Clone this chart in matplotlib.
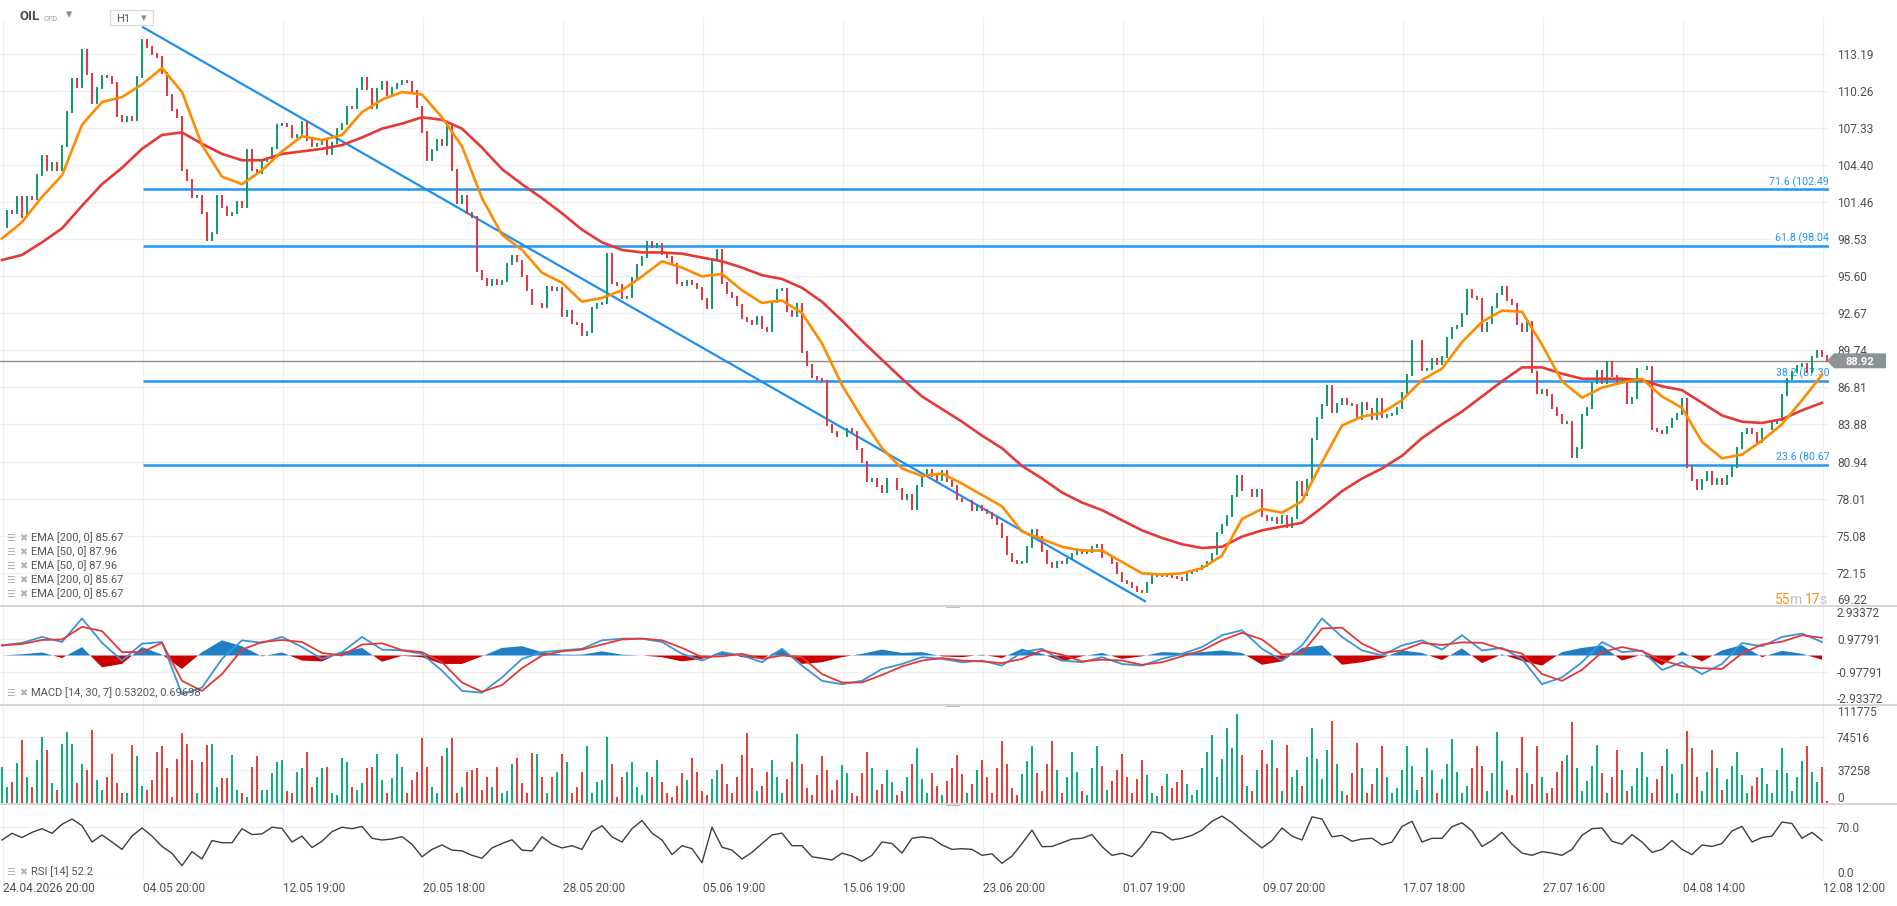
import numpy as np
import matplotlib
matplotlib.use("Agg")
import matplotlib.pyplot as plt
from matplotlib.lines import Line2D
from matplotlib.patches import Rectangle, Polygon

plt.rcParams['font.family'] = ['Roboto', 'DejaVu Sans']

W, H = 1897, 906
X_RIGHT = 1829          # right edge of the plotting area (px)

# ---- data (one candle = ~5 hourly bars) ----
close = [
    99.5, 100.8, 100.6, 101.9, 100.3, 101.9, 101.7, 103.6, 105.1, 104.0,
    104.6, 104.0, 105.9, 108.6, 111.2, 110.6, 113.5, 111.6, 109.3, 110.5,
    111.5, 111.4, 110.9, 108.3, 107.9, 108.2, 108.0, 111.4, 114.3, 113.8,
    113.2, 113.0, 111.7, 110.0, 108.8, 108.2, 104.0, 103.2, 101.9, 102.0,
    100.6, 98.5, 99.0, 102.0, 101.1, 100.5, 100.6, 101.5, 101.1, 105.6,
    104.0, 103.8, 104.7, 105.0, 105.8, 107.6, 107.7, 107.5, 106.6, 106.8,
    107.8, 106.4, 105.9, 106.1, 106.4, 105.3, 106.2, 107.3, 107.7, 109.0,
    108.9, 110.4, 111.3, 110.4, 108.9, 110.4, 111.0, 110.0, 110.5, 110.8,
    111.1, 111.0, 110.3, 109.0, 107.0, 104.8, 105.6, 106.4, 106.0, 107.5,
    104.0, 101.4, 102.0, 100.6, 100.3, 96.0, 95.4, 94.9, 95.3, 95.0,
    95.2, 96.6, 97.2, 96.8, 95.6, 94.5, 93.4, 93.4, 93.2, 94.8,
    94.5, 94.7, 92.5, 92.9, 91.9, 91.8, 91.0, 91.2, 93.1, 93.4,
    93.5, 97.4, 95.1, 94.9, 93.9, 94.0, 95.5, 96.5, 97.1, 98.3,
    97.9, 98.2, 97.4, 97.1, 96.6, 95.1, 94.9, 95.2, 95.0, 94.7,
    93.8, 93.1, 97.0, 97.7, 95.1, 94.3, 94.0, 93.3, 92.3, 92.1,
    91.8, 92.4, 91.5, 91.3, 93.6, 94.5, 94.6, 92.9, 92.5, 93.4,
    89.6, 88.6, 87.6, 87.5, 87.3, 83.8, 83.3, 83.0, 83.0, 83.5,
    83.3, 81.9, 80.9, 79.4, 79.6, 79.0, 78.5, 79.6, 79.6, 78.8,
    78.0, 78.3, 77.2, 79.0, 79.8, 80.3, 79.8, 79.5, 80.2, 79.4,
    79.0, 78.0, 77.8, 77.8, 77.1, 77.4, 77.1, 76.9, 76.5, 76.0,
    75.0, 73.6, 73.1, 72.9, 73.0, 74.2, 75.5, 75.0, 73.9, 72.9,
    72.6, 73.0, 72.9, 73.2, 73.6, 73.9, 73.7, 73.8, 74.2, 74.3,
    73.4, 73.4, 72.9, 72.1, 71.5, 71.3, 71.0, 70.7, 70.6, 71.3,
    71.9, 72.0, 71.9, 72.0, 71.8, 71.7, 71.6, 72.1, 72.3, 72.4,
    72.7, 73.0, 73.6, 75.3, 75.9, 76.6, 78.2, 79.8, 78.7, 78.7,
    78.2, 78.7, 76.6, 76.3, 76.5, 76.1, 76.6, 75.8, 76.5, 79.3,
    78.3, 79.5, 82.7, 84.4, 85.4, 86.9, 84.9, 85.5, 85.9, 85.5,
    85.4, 84.3, 85.6, 85.1, 84.3, 85.9, 84.5, 84.6, 84.7, 85.2,
    86.4, 87.8, 90.5, 90.5, 88.2, 88.3, 89.1, 88.7, 89.2, 90.7,
    91.5, 91.7, 92.6, 94.5, 94.0, 93.8, 91.3, 91.9, 93.2, 94.2,
    94.8, 93.7, 93.4, 91.8, 91.3, 92.0, 88.0, 86.4, 86.6, 86.2,
    85.2, 84.6, 84.0, 84.1, 81.3, 82.0, 84.6, 85.2, 87.2, 88.1,
    87.2, 88.8, 87.7, 87.2, 87.3, 85.6, 86.0, 88.3, 88.3, 88.4,
    83.5, 83.4, 83.2, 83.7, 84.3, 84.7, 85.9, 80.5, 79.5, 78.8,
    79.5, 80.1, 79.2, 79.6, 79.2, 79.8, 80.5, 82.0, 83.2, 83.5,
    83.2, 82.5, 83.5, 83.5, 84.0, 84.2, 86.2, 87.5, 88.0, 88.5,
    88.7, 88.0, 89.2, 89.7, 89.3, 88.92,
]

# EMA values, one every 4 candles
ema50 = [
    98.6, 99.9, 101.9, 103.6, 107.6, 109.4, 109.8, 110.8, 112.1, 110.2,
    106.0, 103.5, 102.9, 104.0, 105.5, 106.7, 106.4, 106.8, 108.6, 109.6,
    110.2, 110.0, 108.2, 105.9, 101.8, 98.9, 97.7, 95.9, 95.1, 93.6,
    93.9, 94.5, 95.6, 96.8, 96.3, 95.6, 95.8, 94.5, 93.5, 93.7,
    92.7, 90.3, 87.0, 84.4, 82.0, 80.4, 79.8, 80.0, 79.2, 78.3,
    77.4, 75.4, 74.8, 74.2, 73.9, 73.9, 73.0, 72.1, 72.0, 72.1,
    72.5, 73.5, 76.4, 77.2, 76.9, 77.8, 80.9, 83.8, 84.5, 84.8,
    85.8, 87.4, 88.3, 90.4, 92.0, 92.9, 92.8, 90.2, 87.3, 86.0,
    86.8, 87.2, 87.5, 86.1, 85.2, 82.5, 81.2, 81.5, 82.6, 83.9,
    85.8, 87.8,
]
ema200 = [
    96.9, 97.3, 98.3, 99.4, 101.2, 102.9, 104.2, 105.7, 106.8, 107.0,
    106.1, 105.3, 104.8, 104.8, 105.3, 105.5, 105.7, 106.0, 106.6, 107.3,
    107.7, 108.2, 108.0, 107.3, 105.8, 104.1, 102.9, 101.8, 100.6, 99.3,
    98.3, 97.7, 97.5, 97.5, 97.4, 97.1, 96.8, 96.3, 95.7, 95.4,
    94.7, 93.6, 92.1, 90.5, 89.0, 87.5, 86.1, 85.1, 84.1, 83.0,
    82.0, 80.6, 79.6, 78.5, 77.7, 77.1, 76.3, 75.5, 74.9, 74.4,
    74.1, 74.2, 75.0, 75.5, 75.8, 76.1, 77.3, 78.6, 79.6, 80.4,
    81.4, 82.8, 83.9, 84.9, 86.1, 87.3, 88.4, 88.4, 87.9, 87.5,
    87.5, 87.5, 87.4, 86.9, 86.6, 85.6, 84.6, 84.1, 84.0, 84.3,
    85.0, 85.6,
]

# MACD [14, 30, 7], one value every 4 candles
macd = [
    0.6, 0.75, 1.1, 0.8, 2.2, 0.75, -0.3, 0.7, 0.8, -2.3,
    -1.9, -0.2, 0.9, 0.75, 1.1, 0.5, -0.2, 0.2, 1.1, 0.35,
    0.3, 0.1, -0.9, -2.1, -2.2, -1.3, -0.2, 0.2, 0.3, 0.4,
    0.9, 1.0, 1.0, 0.8, 0.1, -0.3, 0.2, 0.0, -0.4, 0.4,
    -0.6, -1.5, -1.7, -1.5, -0.8, -0.5, -0.1, -0.2, -0.4, -0.3,
    -0.6, 0.2, 0.4, -0.3, -0.4, -0.1, -0.5, -0.6, -0.2, 0.1,
    0.5, 1.2, 1.5, 0.4, -0.3, 0.6, 2.2, 1.1, 0.3, 0.0,
    0.6, 0.9, 0.35, 1.2, 0.3, 0.45, -0.2, -1.7, -1.3, -0.4,
    0.8, 0.2, 0.3, -0.86, -0.4, -1.1, -0.5, 0.74, 0.55, 1.1,
    1.3, 0.8,
]
signal = [
    0.6, 0.68, 0.92, 0.95, 1.7, 1.45, 0.2, 0.2, 0.75, -1.5,
    -2.1, -1.1, 0.35, 0.8, 0.92, 0.8, 0.15, 0.0, 0.65, 0.72,
    0.32, 0.2, -0.4, -1.6, -2.15, -1.75, -0.75, 0.0, 0.25, 0.35,
    0.65, 0.95, 1.0, 0.9, 0.45, -0.1, -0.05, 0.1, -0.2, 0.0,
    -0.1, -1.1, -1.6, -1.6, -1.15, -0.65, -0.3, -0.15, -0.3, -0.35,
    -0.45, -0.2, 0.3, 0.05, -0.35, -0.25, -0.3, -0.55, -0.4, -0.05,
    0.3, 0.9, 1.35, 0.95, 0.05, 0.15, 1.6, 1.65, 0.7, 0.15,
    0.3, 0.75, 0.62, 0.78, 0.75, 0.38, 0.12, -1.1, -1.5, -0.85,
    0.2, 0.5, 0.25, -0.28, -0.63, -0.75, -0.8, 0.12, 0.65, 0.82,
    1.2, 1.05,
]

# volume per candle, thousands of contracts
volume_k = [
    41, 19, 25, 46, 71, 30, 19, 49, 75, 60,
    23, 16, 67, 80, 67, 23, 45, 38, 82, 27,
    16, 30, 56, 23, 12, 12, 66, 53, 20, 16,
    27, 58, 64, 40, 8, 50, 79, 67, 49, 12,
    47, 66, 67, 19, 29, 29, 54, 16, 12, 8,
    41, 53, 16, 16, 34, 47, 49, 14, 12, 36,
    40, 58, 19, 30, 40, 41, 12, 10, 51, 47,
    19, 16, 23, 40, 41, 56, 27, 12, 29, 56,
    41, 12, 27, 36, 73, 41, 19, 12, 53, 62,
    73, 12, 19, 36, 38, 40, 16, 30, 19, 41,
    12, 14, 45, 51, 23, 12, 57, 56, 30, 12,
    30, 36, 56, 47, 12, 19, 36, 65, 12, 25,
    27, 74, 45, 8, 30, 36, 47, 19, 10, 36,
    30, 49, 25, 12, 8, 20, 34, 27, 51, 36,
    14, 10, 28, 38, 45, 22, 12, 30, 55, 79,
    40, 14, 20, 36, 49, 30, 12, 28, 47, 78,
    45, 18, 10, 32, 53, 38, 16, 27, 43, 35,
    12, 9, 34, 58, 40, 16, 22, 38, 25, 10,
    14, 30, 45, 62, 28, 12, 34, 20, 10, 26,
    40, 54, 33, 12, 22, 38, 49, 30, 12, 40,
    70, 45, 18, 10, 33, 48, 64, 35, 14, 44,
    70, 38, 12, 30, 58, 36, 14, 10, 40, 64,
    42, 16, 26, 38, 56, 30, 12, 28, 49, 32,
    12, 9, 20, 33, 18, 24, 38, 22, 10, 16,
    40, 58, 77, 30, 50, 84, 62, 100, 55, 20,
    14, 38, 60, 45, 71, 40, 14, 66, 30, 38,
    20, 52, 85, 50, 28, 60, 92, 45, 14, 10,
    35, 68, 40, 12, 22, 40, 64, 30, 12, 18,
    38, 64, 42, 16, 30, 62, 38, 12, 28, 45,
    72, 36, 12, 20, 40, 64, 42, 14, 35, 80,
    48, 16, 10, 40, 74, 35, 22, 64, 30, 12,
    18, 36, 48, 55, 91, 40, 14, 26, 42, 66,
    35, 12, 30, 60, 38, 14, 20, 40, 58, 30,
    12, 28, 42, 61, 33, 12, 45, 81, 62, 30,
    14, 36, 60, 40, 16, 28, 42, 58, 32, 12,
    20, 30, 40, 22, 12, 38, 62, 34, 14, 30,
    48, 64, 36, 24, 41, 3,
]

# RSI [14], one value every 2 candles
rsi = [
    52.7, 61.7, 56, 63, 68, 61.7, 74, 81, 72, 50,
    59.5, 50, 40, 58, 69, 58, 44, 34.7, 18, 37,
    27, 52, 49, 49, 68, 60, 61, 70, 68.4, 50,
    58, 42.5, 51, 64, 70, 68, 71, 55, 52.7, 54,
    57.2, 47, 30, 40, 46, 39, 38, 32, 28, 42,
    48, 53, 39, 38, 57, 47, 42, 45, 40, 64,
    72, 57, 50, 68, 79,
    62, 52.7, 33, 45, 41, 22, 70, 43, 39, 27,
    36, 48, 59.5, 62, 45, 45, 30, 28, 25.7, 35,
    31, 24, 32, 50, 48, 35, 55, 57, 55, 46,
    40, 41, 40, 32, 34, 21.2, 31, 48, 66, 43.7,
    44, 49, 54, 55, 60, 43.7, 32, 34.7, 30.2, 45,
    64, 62, 52.7, 55, 59, 66, 78, 85, 76, 64,
    52.7, 42, 52, 69, 58,
    52.7, 84, 81, 57, 59, 51, 54, 55, 46, 50,
    71, 78, 50, 55, 55, 70.7, 76, 65, 44, 52,
    63, 47, 35, 32, 37, 35, 32, 40, 59, 68,
    69, 51, 47, 60, 50, 36, 40, 52, 40, 33,
    46, 44, 48, 65, 71, 50, 56, 58, 77, 75,
    55, 63, 52.2,
]

date_labels = ["24.04.2026 20:00", "04.05 20:00", "12.05 19:00", "20.05 18:00",
               "28.05 20:00", "05.06 19:00", "15.06 19:00", "23.06 20:00",
               "01.07 19:00", "09.07 20:00", "17.07 18:00", "27.07 16:00",
               "04.08 14:00", "12.08 12:00"]
price_ticks = [113.19, 110.26, 107.33, 104.40, 101.46, 98.53, 95.60, 92.67,
               89.74, 86.81, 83.88, 80.94, 78.01, 75.08, 72.15]
fib_levels = [102.49, 98.04, 87.30, 80.67]
fib_names = ["71.6 (102.49)", "61.8 (98.04)", "38.2 (87.30)", "23.6 (80.67)"]
trend_x = [28.2, 228.6]
trend_y = [115.33, 69.89]
last_price = 88.92
ema_legend = ["EMA [200, 0] 85.67", "EMA [50, 0] 87.96", "EMA [50, 0] 87.96",
              "EMA [200, 0] 85.67", "EMA [200, 0] 85.67"]

GREEN, RED = "#0b9c65", "#e2343f"
VGREEN, VRED = "#0db27a", "#e8403a"
BLUE = "#2196f3"
GRID = "#f0f0f0"
AXIS_TXT = "#505050"

close = np.array(close)
k = np.arange(len(close))
opens = np.r_[close[0], close[:-1]]
up = close >= opens
tick_pos = np.arange(len(date_labels)) * 28 + 0.2

fig = plt.figure(figsize=(W / 100, H / 100), dpi=100)


def panel(top, bottom):
    ax = fig.add_axes([0, 1 - bottom / H, X_RIGHT / W, (bottom - top) / H])
    for s in ax.spines.values():
        s.set_visible(False)
    ax.set_xlim(-0.4, 365.4)
    ax.yaxis.tick_right()
    ax.tick_params(length=0, labelsize=8.6, labelcolor=AXIS_TXT, pad=5.8)
    ax.set_xticks(tick_pos)
    ax.set_xticklabels([])
    ax.grid(True, color=GRID, lw=1)
    ax.set_axisbelow(True)
    ax.patch.set_alpha(0)
    return ax


def fx(px):
    return px / W


def fy(py):
    return 1 - py / H


def right_label(ax, value, text):
    ax.text(1.0 + 8 / X_RIGHT, value, text, transform=ax.get_yaxis_transform(),
            fontsize=8.6, color=AXIS_TXT, va="center", ha="left")


def legend_row(py, text):
    fig.text(fx(6), fy(py), "\u2630", fontsize=7, color="#b0b0b0", va="center")
    fig.text(fx(19), fy(py), "\u2716", fontsize=7, color="#b0b0b0", va="center")
    fig.text(fx(31), fy(py), text, fontsize=8, color="#555555", va="center")


# ---- price panel ----
ax = panel(18, 606)
ax.set_ylim(69.51, 116.06)
ax.set_yticks(price_ticks)
ax.set_yticklabels([f"{v:.2f}" for v in price_ticks])
right_label(ax, 69.95, "69.22")

ax.axhline(last_price, color="#8c8c8c", lw=1, zorder=1)
for lvl, name in zip(fib_levels, fib_names):
    ax.plot([28.2, 365.4], [lvl, lvl], color=BLUE, lw=1.8, zorder=2,
            solid_capstyle="butt")
    ax.text(366.2, lvl + 0.15, name, color=BLUE, fontsize=7.7, ha="right",
            va="bottom", clip_on=True, zorder=2)
ax.plot(trend_x, trend_y, color="#1e8ff0", lw=1.6, zorder=2)

cols = np.where(up, GREEN, RED)
bodies = ax.vlines(k, opens, close, colors=cols, lw=1.4, zorder=3)
bodies.set_capstyle("projecting")

ema_x = np.arange(len(ema50)) * 4
ax.plot(ema_x, ema200, color="#e53935", lw=1.9, zorder=4)
ax.plot(ema_x, ema50, color="#ff8c00", lw=1.9, zorder=5)

for i, txt in enumerate(ema_legend):
    legend_row(538 + 14 * i, txt)

# header
fig.text(fx(20), fy(17), "OIL", fontsize=9.5, fontweight="bold", color="#4d4d4d", va="center")
fig.text(fx(43), fy(19), "CFD", fontsize=5.5, color="#999999", va="center")
fig.text(fx(66), fy(15), "\u25be", fontsize=9, color="#8a8a8a", va="center")
fig.add_artist(Rectangle((fx(110), fy(25)), 43 / W, 15 / H, transform=fig.transFigure,
                         facecolor="white", edgecolor="#dcdcdc", lw=1))
fig.text(fx(116), fy(19), "H1", fontsize=8, color="#555555", va="center")
fig.text(fx(141), fy(18), "\u25be", fontsize=8, color="#8a8a8a", va="center")

# countdown
for txt, x0, c in [("55", 1775, "#f7931e"), ("m", 1790, "#c0c0c0"),
                   ("17", 1805, "#f7931e"), ("s", 1819, "#c0c0c0")]:
    fig.text(fx(x0), fy(600), txt, fontsize=10, color=c, va="center")

# last price tag
tyf = ax.transData.transform((0, last_price))[1] / fig.bbox.height
th = 7.5 / H
tag = Polygon([(fx(1827), tyf), (fx(1834), tyf + th), (fx(1886), tyf + th),
               (fx(1886), tyf - th), (fx(1834), tyf - th)], closed=True,
              transform=fig.transFigure, facecolor="#8c9398", edgecolor="none",
              zorder=5)
fig.add_artist(tag)
fig.text(fx(1860), tyf - 1.0 / H, f"{last_price:.2f}", fontsize=8.0,
         fontweight="bold", color="white", ha="center", va="center", zorder=6)

# ---- MACD panel ----
axm = panel(606, 705)
axm.set_ylim(-2.93372, 2.93372)
axm.set_yticks([0.97791, -0.97791])
axm.set_yticklabels(["0.97791", "-0.97791"])
macd = np.array(macd)
signal = np.array(signal)
hist = macd - signal
mx = np.arange(len(macd)) * 4
axm.fill_between(mx, hist, 0, where=hist >= 0, interpolate=True, color="#1f7fc4", lw=0)
axm.fill_between(mx, hist, 0, where=hist <= 0, interpolate=True, color="#cc0000", lw=0)
axm.plot(mx, macd, color="#3a94d8", lw=1.3)
axm.plot(mx, signal, color="#e53935", lw=1.3)
right_label(axm, 2.5, "2.93372")
right_label(axm, -2.59, "-2.93372")
legend_row(693, "MACD [14, 30, 7] 0.53202, 0.69698")

# ---- volume panel ----
axv = panel(705, 804)
axv.set_ylim(0, 110.1)
axv.set_yticks([37.258, 74.516])
axv.set_yticklabels(["37258", "74516"])
vol = np.array(volume_k[:len(close)])
axv.bar(k[:len(vol)], vol, width=0.55, color=np.where(up, VGREEN, VRED)[:len(vol)],
        lw=0, zorder=3)
right_label(axv, 102.3, "111775")
right_label(axv, 5.6, "0")

# ---- RSI panel ----
axr = panel(805, 879)
axr.set_ylim(0, 100)
axr.set_yticks([0, 70])
axr.set_yticklabels(["", "70.0"])
rx = np.arange(len(rsi)) * 2
axr.plot(rx, rsi, color="#3a3f44", lw=1.0)
right_label(axr, 6.8, "0.0")
legend_row(872, "RSI [14] 52.2")
axr.set_xticklabels(date_labels)
axr.tick_params(axis="x", labelsize=8.6, labelcolor=AXIS_TXT, pad=2.5)
for lbl in axr.get_xticklabels():
    lbl.set_ha("left")

# panel separators + drag handles
for py in (606, 705, 804):
    fig.add_artist(Line2D([0, 1], [fy(py), fy(py)], transform=fig.transFigure,
                          color="#d6d6d6", lw=1.5))
    fig.add_artist(Rectangle((fx(946), fy(py) - 1.5 / H), 14 / W, 3 / H,
                             transform=fig.transFigure, facecolor="#bdbdbd",
                             edgecolor="none"))

fig.savefig("out.png", dpi=100, facecolor="white")
